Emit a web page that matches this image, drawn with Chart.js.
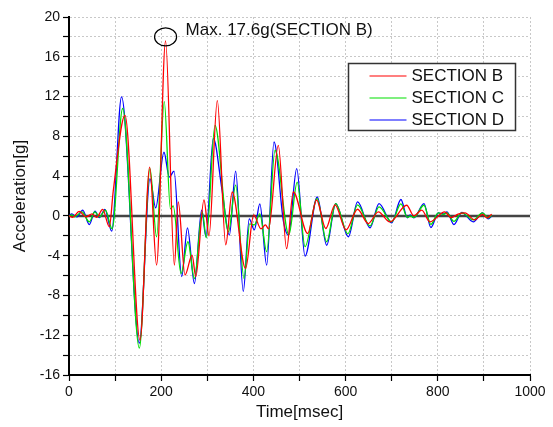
<!DOCTYPE html>
<html>
<head>
<meta charset="utf-8">
<script src="https://cdn.jsdelivr.net/npm/chart.js@4.4.1/dist/chart.umd.min.js"></script>
<style>
  html, body { margin: 0; padding: 0; background: #fff; }
  #wrap { width: 553px; height: 427px; }
</style>
</head>
<body>
<div id="wrap"><canvas id="myChart"></canvas></div>
<script>
// time [msec] and acceleration [g]
const tB = [0, 8, 22, 37, 50, 60, 73, 87.5, 96, 121.5, 154, 175, 190, 209.5, 228.6, 237, 251.6, 267, 275, 292.8, 303.7, 321.7, 340, 354, 383, 400.6, 416.5, 426, 433, 454, 472, 486.6, 517.7, 537, 557, 577, 601, 626, 649, 671, 696, 732.5, 748, 765, 783, 815, 829, 844, 859, 880, 897, 907, 917];
const accB = [0, -0.15, 0.45, -0.1, 0.2, -0.15, 0.65, -1.1, 2.5, 10.1, -12.5, 4.9, -4.95, 17.6, -4.95, 1.4, -5.95, -3.95, -6.1, 1.6, -2.0, 11.6, -2.9, 2.4, -5.3, 0.1, -1.3, -0.9, -1.3, 7.1, -3.3, 2.4, -1.77, 1.6, -1.27, 1.1, -1.4, 0.67, -0.77, 0.4, -0.6, 1.07, 0.0, 0.57, -0.6, 0.4, -0.17, 0.17, 0.3, -0.4, 0.15, -0.2, 0.17];

const tC = [0, 6, 12, 28, 44, 56, 66, 79, 93.5, 116.4, 152.6, 175.7, 190, 206.7, 220, 226, 243, 258, 272, 289, 298, 316.7, 346, 361.6, 379.6, 392, 402, 414, 428.8, 447, 477, 495, 512, 538, 559, 578.5, 605, 626, 653, 672.5, 700, 720, 734, 740, 748, 770, 785, 801, 812, 820, 835, 852, 877, 897, 909, 917];
const accC = [0, 0.1, -0.1, 0.4, -0.6, 0.4, -0.1, 0.57, -1.3, 10.8, -13.3, 4.76, -2.1, 11.5, 0.7, 1.0, -5.8, -2.6, -6.3, 0.4, -2.2, 9.1, -1.6, 3.1, -6.3, -0.8, -0.9, 0.2, -3.6, 6.6, -1.9, 3.4, -3.1, 1.75, -2.6, 1.24, -1.8, 1.1, -1.0, 0.9, -0.6, 1.2, -0.15, 0.0, -0.15, 1.07, -0.85, 0.3, 0.15, 0.3, -0.55, 0.3, -0.4, 0.3, -0.2, 0.05];

const tD = [0, 6, 16.6, 29.7, 44, 56.4, 65.8, 78, 92.6, 114, 152.6, 175.7, 188, 206, 217.6, 227.8, 244.4, 257, 272, 287.8, 297, 313, 332, 347.8, 361.6, 378, 391, 402, 414, 428.8, 444.7, 465, 476, 494, 512, 538.6, 559, 578.5, 606, 626, 653, 672.5, 700, 720, 734, 740, 748, 770, 785, 801, 812, 820, 835, 852, 877, 897, 909.6, 917];
const accD = [0, 0.2, -0.1, 0.57, -0.87, 0.47, -0.17, 0.64, -1.54, 11.96, -12.8, 3.75, 0.8, 6.4, 3.9, 4.5, -6.1, -1.2, -6.8, 0.57, -2.1, 7.8, 2.6, -1.94, 4.5, -7.6, -0.3, -1.4, 1.2, -4.95, 7.44, -0.5, -1.94, 4.76, -4.05, 1.9, -2.95, 1.24, -2.1, 1.4, -1.2, 1.24, -0.7, 1.65, -0.2, 0.1, -0.2, 1.24, -1.17, 0.3, 0.2, 0.4, -0.87, 0.34, -0.6, 0.3, -0.3, 0];

const seriesNames = ['SECTION B', 'SECTION C', 'SECTION D'];
const seriesColors = ['#ff0000', '#00e000', '#0000ff'];
const peakT = 209.5, peakVal = 17.6;
const noteText = 'Max. 17.6g(SECTION B)';

function pts(t, a) {
    return t.map((x, i) => ({ x: x, y: a[i] }));
}

const FONT = '"Liberation Sans", Arial, sans-serif';

const extras = {
    id: 'extras',
    beforeDatasetsDraw(chart) {
        // zero line
        const ctx = chart.ctx, ys = chart.scales.y, ca = chart.chartArea;
        const y0 = ys.getPixelForValue(0);
        ctx.save();
        ctx.strokeStyle = '#444';
        ctx.lineWidth = 2.5;
        ctx.beginPath();
        ctx.moveTo(ca.left, y0);
        ctx.lineTo(ca.right, y0);
        ctx.stroke();
        ctx.restore();
    },
    afterDraw(chart) {
        const ctx = chart.ctx, xs = chart.scales.x, ys = chart.scales.y;
        ctx.save();
        // max note
        const cx = xs.getPixelForValue(peakT), cy = ys.getPixelForValue(peakVal + 0.4);
        ctx.strokeStyle = '#000';
        ctx.lineWidth = 1.2;
        ctx.beginPath();
        ctx.ellipse(cx, cy, 11, 9, 0, 0, Math.PI * 2);
        ctx.stroke();
        ctx.fillStyle = '#111';
        ctx.font = '17px ' + FONT;
        ctx.textBaseline = 'middle';
        ctx.textAlign = 'left';
        ctx.fillText(noteText, cx + 20, ys.getPixelForValue(18.7));

        // legend box
        const bx = 348.5, by = 63.5, bw = 167, bh = 67;
        ctx.strokeStyle = '#333';
        ctx.lineWidth = 1.5;
        ctx.fillStyle = '#fff';
        ctx.fillRect(bx, by, bw, bh);
        ctx.strokeRect(bx, by, bw, bh);
        chart.data.datasets.forEach((ds, i) => {
            const ry = by + 12.5 + i * 22;
            ctx.strokeStyle = ds.borderColor;
            ctx.lineWidth = 1.2;
            ctx.beginPath();
            ctx.moveTo(bx + 21, ry);
            ctx.lineTo(bx + 58, ry);
            ctx.stroke();
            ctx.fillStyle = '#111';
            ctx.fillText(ds.label, bx + 63, ry);
        });
        ctx.restore();
    }
};

const ctx = document.getElementById('myChart').getContext('2d');
const myChart = new Chart(ctx, {
    type: 'line',
    data: {
        datasets: [
            { label: seriesNames[0], data: pts(tB, accB), borderColor: seriesColors[0] },
            { label: seriesNames[1], data: pts(tC, accC), borderColor: seriesColors[1] },
            { label: seriesNames[2], data: pts(tD, accD), borderColor: seriesColors[2] }
        ].map(d => Object.assign(d, {
            borderWidth: 1.3,
            pointRadius: 0,
            fill: false,
            cubicInterpolationMode: 'monotone'
        }))
    },
    options: {
        responsive: true,
        maintainAspectRatio: false,
        animation: false,
        layout: { padding: { top: 17, right: 23, left: 0, bottom: 0 } },
        plugins: {
            legend: { display: false },
            tooltip: { enabled: false }
        },
        scales: {
            x: {
                type: 'linear',
                min: 0,
                max: 1000,
                afterFit: s => { s.height = 52; },
                ticks: {
                    stepSize: 100,
                    autoSkip: false,
                    maxRotation: 0,
                    padding: 3,
                    color: '#111',
                    font: { family: FONT, size: 14 },
                    callback: v => (v % 200 === 0 ? String(v) : '')
                },
                grid: { color: '#c8c8c8', tickColor: '#000', tickLength: 6, lineWidth: 1, tickWidth: 1.2 },
                border: { color: '#000', width: 2, dash: [2, 2] },
                title: {
                    display: true,
                    text: 'Time[msec]',
                    color: '#111',
                    font: { family: FONT, size: 17 },
                    padding: { top: 0, bottom: 4 }
                }
            },
            y: {
                type: 'linear',
                min: -16,
                max: 20,
                afterFit: s => { s.width = 69; },
                ticks: {
                    stepSize: 2,
                    autoSkip: false,
                    padding: 3,
                    color: '#111',
                    font: { family: FONT, size: 14 },
                    callback: v => (v % 4 === 0 ? String(v) : '')
                },
                grid: { color: '#c8c8c8', tickColor: '#000', tickLength: 6, lineWidth: 1, tickWidth: 1.2 },
                border: { color: '#000', width: 2, dash: [2, 2] },
                title: {
                    display: true,
                    text: 'Acceleration[g]',
                    color: '#111',
                    font: { family: FONT, size: 17 },
                    padding: { top: 10, bottom: 0 }
                }
            }
        }
    },
    plugins: [extras]
});
</script>
</body>
</html>
